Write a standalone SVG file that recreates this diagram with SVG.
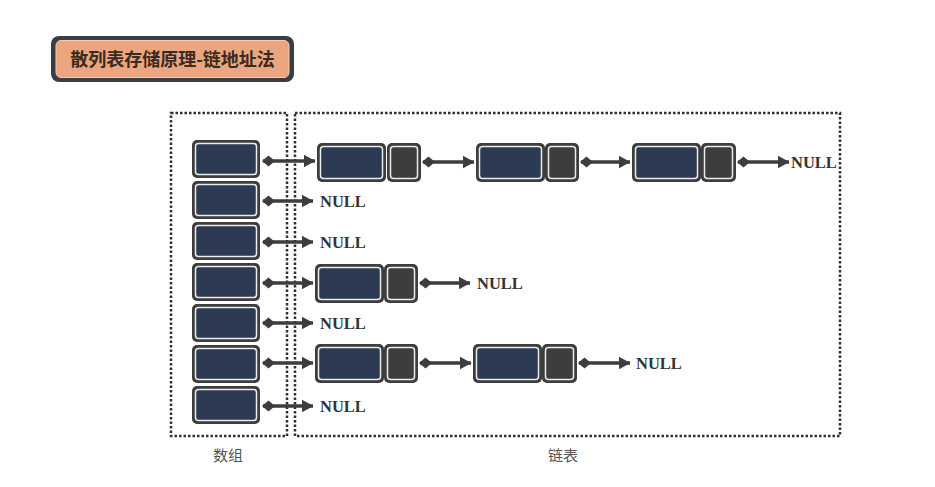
<svg xmlns="http://www.w3.org/2000/svg" width="935" height="487" viewBox="0 0 935 487">
<style>
.o{fill:#3d3d3d}
.d{fill:#2c3a54;stroke:#ececec;stroke-width:1.5}
.p{fill:#3d3d3d;stroke:#ececec;stroke-width:1.5}
.box{fill:none;stroke:#2f2f2f;stroke-width:2.5;stroke-dasharray:2.5 2}
.ln{stroke:#3d3d3d;stroke-width:3.5;fill:none;marker-start:url(#dia);marker-end:url(#arr)}
.null{font-family:"Liberation Serif",serif;font-weight:bold;font-size:16.5px;fill:#333}
.lab{font-family:"Noto Sans CJK SC",sans-serif;font-size:15px;fill:#555}
</style>
<defs>
<marker id="arr" markerUnits="userSpaceOnUse" markerWidth="12" markerHeight="13" refX="11.5" refY="6.5" orient="auto"><path d="M0,0 L12,6.5 L0,13 z" fill="#3d3d3d"/></marker>
<marker id="dia" markerUnits="userSpaceOnUse" markerWidth="13" markerHeight="12" refX="1" refY="6" orient="auto"><path d="M0,6 L6.5,0.5 L13,6 L6.5,11.5 z" fill="#3d3d3d"/></marker>
</defs>
<rect width="935" height="487" fill="#ffffff"/>
<g id="title">
<rect x="51" y="36" width="243" height="46" rx="8" fill="#3a3d44"/>
<rect x="56" y="40.5" width="233" height="37" rx="5" fill="#eca67f" stroke="#f4cdb2" stroke-width="1"/>
<text x="172.5" y="66" text-anchor="middle" font-family="'Noto Sans CJK SC',sans-serif" font-weight="bold" font-size="18" fill="#3a2a22">散列表存储原理-链地址法</text>
</g>
<g id="arrayBox"><rect class="box" x="171" y="113" width="116" height="323"/><text class="lab" x="228" y="461" text-anchor="middle">数组</text></g>
<g id="listBox"><rect class="box" x="295" y="113" width="545" height="323"/><text class="lab" x="563" y="461" text-anchor="middle">链表</text></g>
<g id="array">
<g id="a0"><rect class="o" x="192" y="140" width="68" height="38" rx="5"/><rect class="d" x="195.5" y="143.5" width="61" height="31" rx="3"/></g>
<g id="a1"><rect class="o" x="192" y="181" width="68" height="38" rx="5"/><rect class="d" x="195.5" y="184.5" width="61" height="31" rx="3"/></g>
<g id="a2"><rect class="o" x="192" y="222" width="68" height="38" rx="5"/><rect class="d" x="195.5" y="225.5" width="61" height="31" rx="3"/></g>
<g id="a3"><rect class="o" x="192" y="263" width="68" height="38" rx="5"/><rect class="d" x="195.5" y="266.5" width="61" height="31" rx="3"/></g>
<g id="a4"><rect class="o" x="192" y="304" width="68" height="38" rx="5"/><rect class="d" x="195.5" y="307.5" width="61" height="31" rx="3"/></g>
<g id="a5"><rect class="o" x="192" y="345" width="68" height="38" rx="5"/><rect class="d" x="195.5" y="348.5" width="61" height="31" rx="3"/></g>
<g id="a6"><rect class="o" x="192" y="386" width="68" height="38" rx="5"/><rect class="d" x="195.5" y="389.5" width="61" height="31" rx="3"/></g>
</g>
<g id="n00"><rect class="o" x="317" y="143" width="69" height="39" rx="5"/><rect class="d" x="320.5" y="146.5" width="62" height="32" rx="3"/><rect class="o" x="387" y="143" width="34" height="39" rx="5"/><rect class="p" x="390.5" y="146.5" width="27" height="32" rx="3"/></g>
<g id="n01"><rect class="o" x="476" y="143" width="69" height="39" rx="5"/><rect class="d" x="479.5" y="146.5" width="62" height="32" rx="3"/><rect class="o" x="545" y="143" width="34" height="39" rx="5"/><rect class="p" x="548.5" y="146.5" width="27" height="32" rx="3"/></g>
<g id="n02"><rect class="o" x="632" y="143" width="69" height="39" rx="5"/><rect class="d" x="635.5" y="146.5" width="62" height="32" rx="3"/><rect class="o" x="701" y="143" width="35" height="39" rx="5"/><rect class="p" x="704.5" y="146.5" width="28" height="32" rx="3"/></g>
<g id="n30"><rect class="o" x="315" y="264" width="69" height="39" rx="5"/><rect class="d" x="318.5" y="267.5" width="62" height="32" rx="3"/><rect class="o" x="384" y="264" width="34" height="39" rx="5"/><rect class="p" x="387.5" y="267.5" width="27" height="32" rx="3"/></g>
<g id="n50"><rect class="o" x="315" y="344" width="69" height="39" rx="5"/><rect class="d" x="318.5" y="347.5" width="62" height="32" rx="3"/><rect class="o" x="384" y="344" width="34" height="39" rx="5"/><rect class="p" x="387.5" y="347.5" width="27" height="32" rx="3"/></g>
<g id="n51"><rect class="o" x="473" y="344" width="69" height="39" rx="5"/><rect class="d" x="476.5" y="347.5" width="62" height="32" rx="3"/><rect class="o" x="542" y="344" width="35" height="39" rx="5"/><rect class="p" x="545.5" y="347.5" width="28" height="32" rx="3"/></g>
<g id="connectors">
<line class="ln" x1="263" y1="161" x2="315" y2="161"/>
<line class="ln" x1="423" y1="162" x2="474" y2="162"/>
<line class="ln" x1="581" y1="162" x2="630" y2="162"/>
<line class="ln" x1="738" y1="162" x2="789" y2="162"/>
<line class="ln" x1="263" y1="201" x2="313" y2="201"/>
<line class="ln" x1="263" y1="242" x2="313" y2="242"/>
<line class="ln" x1="263" y1="283" x2="313" y2="283"/>
<line class="ln" x1="420" y1="283" x2="470" y2="283"/>
<line class="ln" x1="263" y1="323" x2="313" y2="323"/>
<line class="ln" x1="263" y1="363" x2="313" y2="363"/>
<line class="ln" x1="420" y1="363" x2="471" y2="363"/>
<line class="ln" x1="579" y1="363" x2="630" y2="363"/>
<line class="ln" x1="263" y1="406" x2="313" y2="406"/>
</g>
<g id="nulls">
<text class="null" x="791" y="167.5">NULL</text>
<text class="null" x="320" y="206.5">NULL</text>
<text class="null" x="320" y="247.5">NULL</text>
<text class="null" x="477" y="288.5">NULL</text>
<text class="null" x="320" y="328.5">NULL</text>
<text class="null" x="636" y="368.5">NULL</text>
<text class="null" x="320" y="411.5">NULL</text>
</g>
</svg>
